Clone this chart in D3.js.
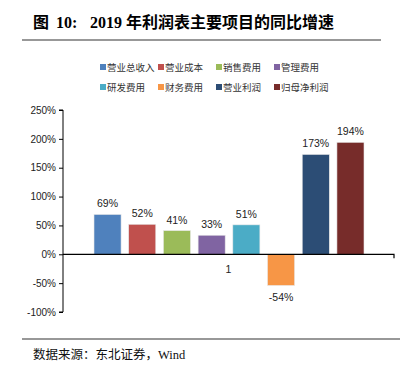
<!DOCTYPE html>
<html>
<head>
<meta charset="utf-8">
<script src="https://cdn.jsdelivr.net/npm/d3@7"></script>
<style>
  body { margin: 0; background: #fff; }
  svg { display: block; }
</style>
</head>
<body>
<div id="chart"></div>
<script>
// data
const seriesNames = ["营业总收入", "营业成本", "销售费用", "管理费用", "研发费用", "财务费用", "营业利润", "归母净利润"];
const seriesValues = [69, 52, 41, 33, 51, -54, 173, 194];
const seriesColors = ["#4F81BD", "#C0504D", "#9BBB59", "#8064A2", "#4BACC6", "#F79646", "#2C4D75", "#772C2A"];
const categories = ["1"];
const yTicks = [-100, -50, 0, 50, 100, 150, 200, 250];

const width = 409, height = 368;
const plot = {left: 63, right: 394, top: 110, bottom: 312};

let svg = d3.select("#chart")
    .append("svg")
    .attr("width", width)
    .attr("height", height);

// title
let title = svg.append("text")
    .attr("x", 33)
    .attr("y", 28)
    .style("font-size", "16px")
    .style("font-weight", "bold")
    .style("font-family", "'Liberation Serif', 'Noto Sans CJK SC', serif");
title.append("tspan").text("图");
title.append("tspan").attr("x", 56).text("10:");
title.append("tspan").attr("x", 90).text("2019 年利润表主要项目的同比增速");

svg.append("line")
    .attr("x1", 22).attr("x2", 381)
    .attr("y1", 40).attr("y2", 40)
    .attr("stroke", "#333").attr("stroke-width", 1.2);

// scales
let y = d3.scaleLinear()
    .domain([-100, 250])
    .range([plot.bottom, plot.top]);

let x = d3.scaleBand()
    .domain(categories)
    .range([plot.left, plot.right]);

let xInner = d3.scaleBand()
    .domain(seriesNames)
    .range([31, x.bandwidth() - 30])
    .paddingInner(0.22);

// y axis
let yAxis = svg.append("g")
    .attr("transform", `translate(${plot.left},0)`)
    .call(d3.axisLeft(y).tickValues(yTicks).tickSize(4).tickPadding(3)
        .tickFormat(d => d + "%"));
yAxis.select(".domain").attr("stroke", "#000").attr("d", `M-4,${plot.top}H0V${plot.bottom}H-4`);
yAxis.selectAll("line").attr("stroke", "#000");
yAxis.selectAll("text")
    .style("font-family", "'Liberation Sans', Arial, sans-serif")
    .style("font-size", "10px")
    .attr("fill", "#222");

// bars
let bars = svg.selectAll("rect.bar").data(seriesNames);
bars.enter()
    .append("rect")
    .attr("class", "bar")
    .attr("x", d => x("1") + xInner(d))
    .attr("y", (d, i) => y(Math.max(0, seriesValues[i])))
    .attr("width", xInner.bandwidth())
    .attr("height", (d, i) => Math.abs(y(seriesValues[i]) - y(0)))
    .attr("fill", (d, i) => seriesColors[i])
    .attr("stroke", "#e8e8e8")
    .attr("stroke-width", 0.6);

// data labels
svg.selectAll("text.val").data(seriesNames)
    .enter()
    .append("text")
    .attr("class", "val")
    .attr("x", d => x("1") + xInner(d) + xInner.bandwidth() / 2)
    .attr("y", (d, i) => seriesValues[i] >= 0 ? y(seriesValues[i]) - 7 : y(seriesValues[i]) + 16)
    .style("text-anchor", "middle")
    .style("font-family", "'Liberation Sans', Arial, sans-serif")
    .style("font-size", "10.5px")
    .attr("fill", "#222")
    .text((d, i) => seriesValues[i] + "%");

// x axis at zero
let xAxis = svg.append("g")
    .attr("transform", `translate(0,${y(0)})`)
    .call(d3.axisBottom(x).tickSize(0).tickPadding(11));
xAxis.select(".domain").attr("stroke", "#000").attr("stroke-width", 1.2)
    .attr("d", `M${plot.left},0H${plot.right}V4`);
xAxis.selectAll("text")
    .style("font-family", "'Liberation Sans', Arial, sans-serif")
    .style("font-size", "10.5px")
    .attr("fill", "#222");

// legend
let legend = svg.append("g");
seriesNames.forEach(function(name, i) {
    let col = i % 4, row = Math.floor(i / 4);
    let lx = 100 + col * 58, ly = 67 + row * 20;
    legend.append("rect")
        .attr("x", lx).attr("y", ly - 3)
        .attr("width", 6).attr("height", 6)
        .attr("fill", seriesColors[i]);
    legend.append("text")
        .attr("x", lx + 7).attr("y", ly + 4)
        .style("font-family", "'Noto Sans CJK SC', sans-serif")
        .style("font-size", "9.5px")
        .attr("fill", "#333")
        .text(name);
});

// footer
svg.append("line")
    .attr("x1", 22).attr("x2", 400)
    .attr("y1", 339).attr("y2", 339)
    .attr("stroke", "#333").attr("stroke-width", 1.2);

svg.append("text")
    .attr("x", 33)
    .attr("y", 359)
    .style("font-family", "'Liberation Serif', 'Noto Sans CJK SC', serif")
    .style("font-size", "12.5px")
    .attr("fill", "#111")
    .text("数据来源：东北证券，Wind");
</script>
</body>
</html>
